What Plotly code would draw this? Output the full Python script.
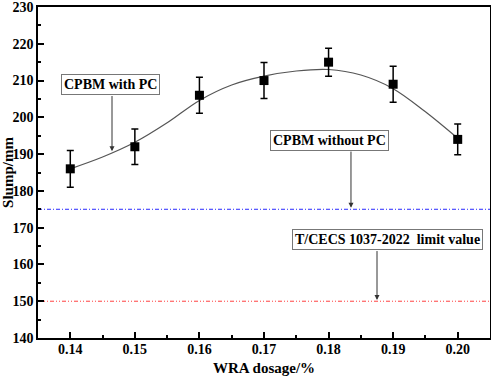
import plotly.graph_objects as go

# Measured data
wra_dosage = [0.14, 0.15, 0.16, 0.17, 0.18, 0.19, 0.20]
slump = [186, 192, 206, 210, 215, 209, 194]
slump_err = [5.0, 4.8, 4.9, 4.9, 3.8, 4.9, 4.2]

# Fitted curve
fit_x = [0.14, 0.145, 0.15, 0.155, 0.16, 0.165, 0.17, 0.175, 0.18, 0.185, 0.19, 0.195, 0.20]
fit_y = [186.0, 189.2, 193.2, 198.5, 204.6, 208.8, 211.2, 212.6, 213.0, 211.5, 207.8, 201.5, 194.3]

# Reference levels
without_pc = 175
limit_value = 150

x_ticks = [0.14, 0.15, 0.16, 0.17, 0.18, 0.19, 0.20]
x_tick_labels = ["0.14", "0.15", "0.16", "0.17", "0.18", "0.19", "0.20"]
y_ticks = [140, 150, 160, 170, 180, 190, 200, 210, 220, 230]

FONT = "Liberation Serif"

fig = go.Figure()

fig.add_trace(go.Scatter(
    x=[0.135, 0.205], y=[without_pc, without_pc], mode="lines",
    line=dict(color="#2a2aff", width=1, dash="4px,2px,1px,2px"), showlegend=False, hoverinfo="skip"))
fig.add_trace(go.Scatter(
    x=[0.135, 0.205], y=[limit_value, limit_value], mode="lines",
    line=dict(color="#ff4040", width=1, dash="4px,2px,1px,2px,1px,2px"), showlegend=False, hoverinfo="skip"))

fig.add_trace(go.Scatter(
    x=fit_x, y=fit_y, mode="lines", line=dict(color="#555555", width=1.2, shape="spline"),
    showlegend=False, hoverinfo="skip"))

fig.add_trace(go.Scatter(
    x=wra_dosage, y=slump, mode="markers",
    marker=dict(symbol="square", size=9, color="black"),
    error_y=dict(type="data", array=slump_err, visible=True, color="black", thickness=1.5, width=3.5),
    showlegend=False))

axis_common = dict(
    showline=True, linecolor="black", linewidth=1.5, mirror=True,
    ticks="inside", ticklen=6, tickwidth=1.5, tickcolor="black",
    showgrid=False, zeroline=False, ticklabeloverflow="allow", automargin=False,
    tickfont=dict(family=FONT, size=14, color="black", weight="bold"),
)

fig.update_xaxes(
    range=[0.135, 0.205], tickvals=x_ticks, ticktext=x_tick_labels, ticklabelstandoff=-3,
    minor=dict(dtick=0.005, tick0=0.135, ticks="inside", ticklen=3, tickwidth=1.5, tickcolor="black"),
    title=dict(text="WRA dosage/%", font=dict(family=FONT, size=15, color="black", weight="bold"), standoff=8),
    **axis_common)
fig.update_yaxes(
    range=[140, 230], tickvals=y_ticks,
    minor=dict(dtick=5, tick0=140, ticks="inside", ticklen=3, tickwidth=1.5, tickcolor="black"),
    title=dict(text="Slump/mm", font=dict(family=FONT, size=15, color="black", weight="bold"), standoff=4),
    **axis_common)

box = dict(bordercolor="#777777", borderwidth=1, bgcolor="white", borderpad=2,
           font=dict(family=FONT, size=14, color="black", weight="bold"), showarrow=False,
           xref="x", yref="y")
fig.add_annotation(text="CPBM with PC", x=0.14615, y=208.8, **box)
fig.add_annotation(text="CPBM without PC", x=0.18022, y=193.65, **box)
fig.add_annotation(text="T/CECS 1037-2022&nbsp; limit value", x=0.18913, y=166.8, **box)

arrow = dict(text="", showarrow=True, arrowhead=2, arrowsize=1, arrowwidth=1, arrowcolor="#333333",
             xref="x", yref="y", axref="x", ayref="y")
fig.add_annotation(x=0.14646, y=190.8, ax=0.14646, ay=206.2, **arrow)
fig.add_annotation(x=0.18347, y=175.4, ax=0.18347, ay=191.1, **arrow)
fig.add_annotation(x=0.1875, y=150.3, ax=0.1875, ay=164.05, **arrow)

fig.update_layout(
    width=491, height=376,
    margin=dict(l=38, r=1, t=7, b=38),
    plot_bgcolor="white", paper_bgcolor="white",
)

fig.write_html(
    "out.html",
    config={"displayModeBar": False},
    post_script="document.body.style.margin='0';document.body.style.overflow='hidden';",
)
